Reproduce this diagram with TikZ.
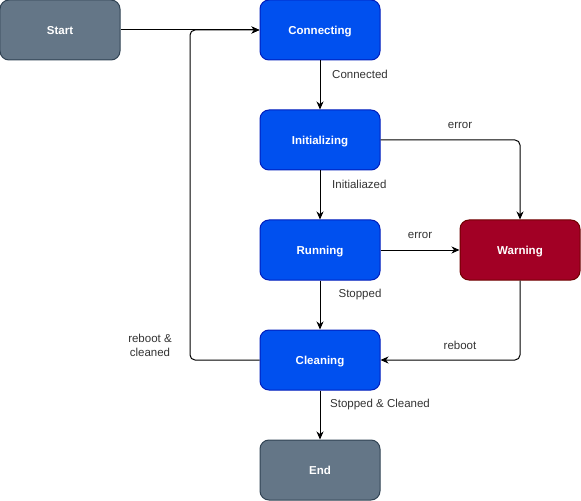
\documentclass[tikz,border=0pt]{standalone}
\usepackage{fontspec}
\setmainfont{Liberation Sans}
\usetikzlibrary{arrows.meta}
\definecolor{grayfill}{HTML}{647687}
\definecolor{graydraw}{HTML}{314354}
\definecolor{bluefill}{HTML}{0050EF}
\definecolor{bluedraw}{HTML}{001DBC}
\definecolor{redfill}{HTML}{A20025}
\definecolor{reddraw}{HTML}{6F0000}
\definecolor{labelc}{HTML}{333333}
\tikzset{
  x=1bp, y=-1bp,
  statebox/.style={rectangle, rounded corners=9bp, minimum width=120bp, minimum height=60bp,
    inner sep=0pt, line width=1bp, text=white, text height=8.5bp, text depth=0bp,
    font=\fontsize{11.5bp}{13bp}\selectfont\bfseries},
  graybox/.style={statebox, fill=grayfill, draw=graydraw},
  bluebox/.style={statebox, fill=bluefill, draw=bluedraw},
  redbox/.style={statebox, fill=redfill, draw=reddraw},
  conn/.style={line width=1bp, -{Stealth[length=8bp,width=7bp,inset=2.5bp]}, rounded corners=5bp},
  lbl/.style={inner sep=0pt, text=labelc, font=\fontsize{11.5bp}{14bp}\selectfont, align=center},
}
\begin{document}
\begin{tikzpicture}
\useasboundingbox (0,0) rectangle (581,501);
\node[graybox] (start) at (60,30) {Start};
\node[bluebox] (conn) at (320,30) {Connecting};
\node[bluebox] (init) at (320,140) {Initializing};
\node[bluebox] (run) at (320,250) {Running};
\node[redbox] (warn) at (520,250) {Warning};
\node[bluebox] (clean) at (320,360) {Cleaning};
\node[graybox] (end) at (320,470) {End};

\draw[conn] (start) -- (conn);
\draw[conn] (conn) -- (init);
\draw[conn] (init) -- (run);
\draw[conn] (run) -- (clean);
\draw[conn] (clean) -- (end);
\draw[conn] (run) -- (warn);
\draw[conn] (init.east) -| (warn.north);
\draw[conn] (warn.south) |- (clean.east);
\coordinate (lb) at (190,360);
\coordinate (lt) at (190,30);
\draw[conn] (clean.west) -- (lb) -- (lt) -- (conn.west);

\node[lbl, anchor=west] (l1) at (332,74) {Connected};
\node[lbl, anchor=west] (l2) at (332,184) {Initialiazed};
\node[lbl] (l3) at (460,125) {error};
\node[lbl] (l4) at (420,235) {error};
\node[lbl] (l5) at (360,295) {Stopped};
\node[lbl] (l6) at (460,345) {reboot};
\node[lbl] (l7) at (150,345.5) {reboot \&\\cleaned};
\node[lbl] (l8) at (380,405) {Stopped \& Cleaned};
\end{tikzpicture}
\end{document}
